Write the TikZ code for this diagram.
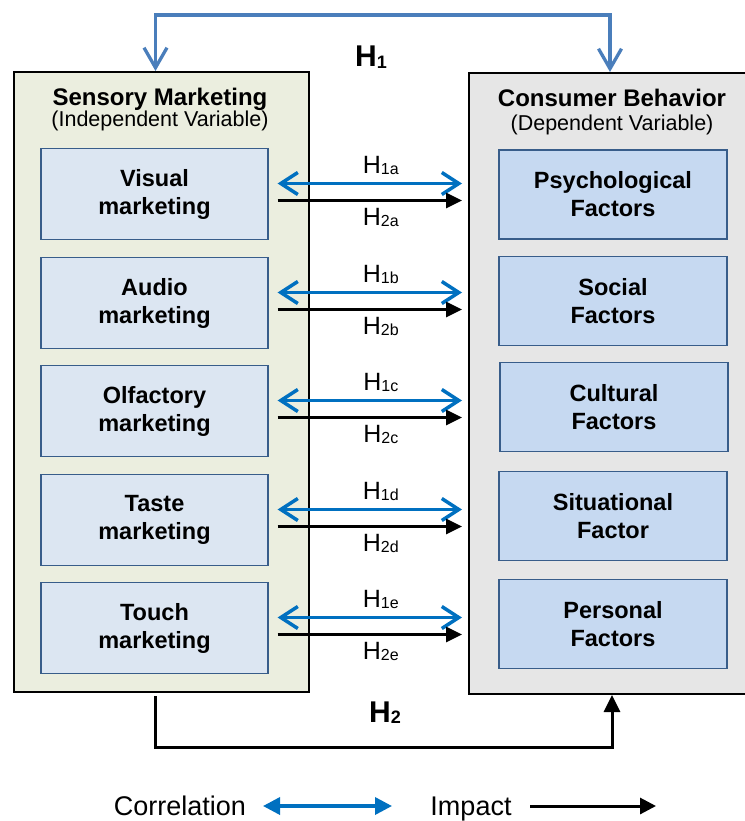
\documentclass[tikz,border=0pt]{standalone}
\usepackage{fontspec}
\setmainfont{Liberation Sans}
\usetikzlibrary{arrows.meta,calc}

\definecolor{smfill}{HTML}{EBEEDF}
\definecolor{cbfill}{HTML}{E6E6E6}
\definecolor{smin}{HTML}{DCE6F2}
\definecolor{cbin}{HTML}{C6D9F1}
\definecolor{inborder}{HTML}{385D8A}
\definecolor{corrblue}{HTML}{0070C0}
\definecolor{linkblue}{HTML}{4A7EBB}

% hypothesis label with a small, slightly lowered index
\newcommand{\hyplabel}[1]{H\raisebox{-1pt}{\fontsize{16}{16}\selectfont #1}}
\newcommand{\bighyp}[1]{\textbf{H\raisebox{-1.5pt}{\fontsize{18}{18}\selectfont #1}}}

\tikzset{
  outerbox/.style={draw=black, line width=2pt, anchor=north west, inner sep=0pt},
  itembox/.style={draw=inborder, line width=1.2pt, align=center, inner sep=0pt,
    font=\bfseries\fontsize{23.5}{28}\selectfont},
  leftitem/.style={itembox, fill=smin, minimum width=227pt, minimum height=91pt},
  rightitem/.style={itembox, fill=cbin, minimum width=228pt, minimum height=89pt},
  corr/.style={draw=corrblue, line width=3.5pt,
    {Straight Barb[length=17pt,width=22pt]}-{Straight Barb[length=17pt,width=22pt]}},
  impact/.style={draw=black, line width=3pt, -{Triangle[length=16pt,width=15pt]}},
  toplink/.style={draw=linkblue, line width=3.3pt,
    {Straight Barb[length=20pt,width=23pt]}-{Straight Barb[length=20pt,width=23pt]}},
  hlab/.style={anchor=base, font=\fontsize{25}{30}\selectfont, inner sep=0pt},
  legtext/.style={anchor=base, font=\fontsize{27}{32}\selectfont, inner sep=0pt},
  titletext/.style={anchor=base, inner sep=0pt, font=\bfseries\fontsize{24}{28}\selectfont},
  subtext/.style={anchor=base, inner sep=0pt, font=\fontsize{21.5}{26}\selectfont},
}

\begin{document}
\begin{tikzpicture}[x=1pt, y=-1pt]
  \useasboundingbox (0,0) rectangle (744,821);

  % outer frames
  \node[outerbox, fill=smfill, minimum width=295pt, minimum height=620pt] (sm) at (13,71) {};
  \node[outerbox, fill=cbfill, minimum width=290pt, minimum height=621pt] (cb) at (468,72) {};

  % frame titles
  \node[titletext] (smt) at (160,106) {Sensory Marketing};
  \node[subtext] (sms) at (160,127) {(Independent Variable)};
  \node[titletext] (cbt) at (612,107) {Consumer Behavior};
  \node[subtext] (cbs) at (612,131) {(Dependent Variable)};

  % sensory marketing items
  \node[leftitem] (L1) at (154.5,194) {Visual\\marketing};
  \node[leftitem] (L2) at (154.5,303) {Audio\\marketing};
  \node[leftitem] (L3) at (154.5,411) {Olfactory\\marketing};
  \node[leftitem] (L4) at (154.5,520) {Taste\\marketing};
  \node[leftitem] (L5) at (154.5,628) {Touch\\marketing};

  % consumer behavior factors
  \node[rightitem] (R1) at (613,194.5) {Psychological\\Factors};
  \node[rightitem] (R2) at (613,301) {Social\\Factors};
  \node[rightitem] (R3) at (614,407) {Cultural\\Factors};
  \node[rightitem] (R4) at (613,516) {Situational\\Factor};
  \node[rightitem] (R5) at (613,624) {Personal\\Factors};

  % per-item correlation and impact arrows
  \coordinate (cbedge) at ([xshift=-6pt]cb.west);
  \foreach \i/\s in {1/a,2/b,3/c,4/d,5/e} {
    \coordinate (ca\i) at ([xshift=9pt,yshift=10.5pt]L\i.east);
    \coordinate (ia\i) at ([xshift=9pt,yshift=-6.5pt]L\i.east);
    \coordinate (cb\i) at (ca\i -| cbedge);
    \coordinate (ib\i) at (ia\i -| cbedge);
    \draw[corr] (ca\i) -- (cb\i);
    \draw[impact] (ia\i) -- (ib\i);
    \node[hlab] (h1\s) at ($(ca\i)!0.5!(cb\i)+(11,-10)$) {\hyplabel{1\s}};
    \node[hlab] (h2\s) at ($(ia\i)!0.5!(ib\i)+(11,25)$) {\hyplabel{2\s}};
  }

  % overall hypotheses
  \draw[toplink] ([xshift=-6pt]sm.north) -- ++(0,-56) -| ([xshift=-4pt]cb.north);
  \node[anchor=base, inner sep=0pt, font=\fontsize{30}{36}\selectfont] (H1) at (371,67) {\bighyp{1}};
  \draw[impact, -{Triangle[length=17pt,width=16pt]}] ([xshift=-6pt,yshift=-3pt]sm.south) -- ++(0,51) -| ([xshift=-2pt]cb.south);
  \node[anchor=base, inner sep=0pt, font=\fontsize{30}{36}\selectfont] (H2) at (385,722) {\bighyp{2}};

  % legend
  \node[legtext] (lcorr) at (180,815) {Correlation};
  \coordinate (lc1) at (263,806);
  \coordinate (lc2) at (392,806);
  \draw[draw=corrblue, line width=3.5pt, {Triangle[length=17pt,width=17pt]}-{Triangle[length=17pt,width=17pt]}] (lc1) -- (lc2);
  \node[legtext] (limp) at (471,815) {Impact};
  \coordinate (li1) at (530,806);
  \coordinate (li2) at (656,806);
  \draw[impact, -{Triangle[length=16pt,width=16pt]}] (li1) -- (li2);
\end{tikzpicture}
\end{document}
